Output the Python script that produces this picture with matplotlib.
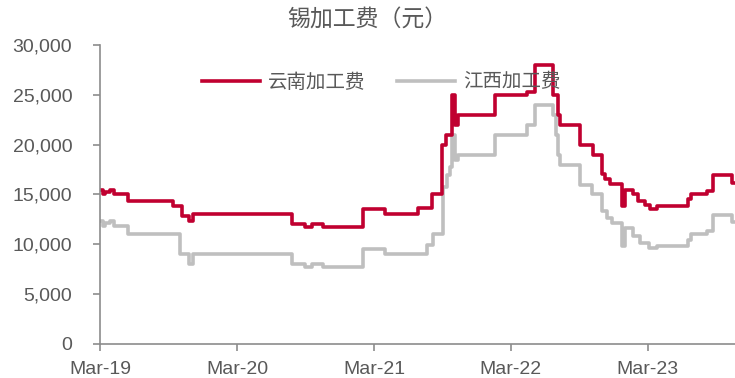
import matplotlib
matplotlib.use('Agg')
from matplotlib import pyplot as plt
import matplotlib.dates as mdates
import pandas as pd

plt.rcParams['font.family'] = ['Liberation Sans', 'Noto Sans CJK SC', 'DejaVu Sans']

# step change dates (value holds until next date)
yn_dates = ['2019-03-01', '2019-03-09', '2019-03-14', '2019-03-28', '2019-04-08', '2019-05-15',
            '2019-09-12', '2019-10-06', '2019-10-24', '2019-11-04', '2020-07-26', '2020-08-30',
            '2020-09-17', '2020-10-17', '2021-01-31', '2021-03-31', '2021-06-27', '2021-08-03',
            '2021-08-30', '2021-09-09', '2021-09-25', '2021-10-03', '2021-10-11', '2022-01-18',
            '2022-04-13', '2022-05-05', '2022-06-22', '2022-07-05', '2022-07-10', '2022-09-02',
            '2022-10-06', '2022-10-31', '2022-11-07', '2022-11-21', '2022-12-23', '2022-12-30',
            '2023-01-21', '2023-02-03', '2023-02-22', '2023-03-07', '2023-03-26', '2023-06-17',
            '2023-06-25', '2023-08-06', '2023-08-22', '2023-10-12', '2023-10-20']
yn_values = [15450, 15050, 15250, 15500, 15050, 14300,
             13800, 12800, 12300, 13000, 12000, 11700,
             12000, 11700, 13500, 13000, 13600, 15000,
             20000, 21000, 25000, 22000, 23000, 25000,
             25300, 28000, 25000, 23000, 22000, 20000,
             19000, 17100, 16600, 16100, 13800, 15500,
             15000, 14300, 13900, 13500, 13800, 14500,
             15100, 15400, 17000, 16200, 16200]

jx_dates = ['2019-03-01', '2019-03-09', '2019-03-14', '2019-03-28', '2019-04-08', '2019-05-15',
            '2019-09-30', '2019-10-24', '2019-11-04', '2020-07-26', '2020-08-30', '2020-09-17',
            '2020-10-17', '2021-01-31', '2021-03-31', '2021-07-21', '2021-08-06', '2021-09-02',
            '2021-09-12', '2021-09-20', '2021-09-25', '2021-10-03', '2021-10-11', '2022-01-18',
            '2022-04-13', '2022-05-05', '2022-06-22', '2022-06-30', '2022-07-05', '2022-07-10',
            '2022-09-02', '2022-10-04', '2022-10-31', '2022-11-13', '2022-11-26', '2022-12-23',
            '2022-12-30', '2023-01-21', '2023-02-09', '2023-03-04', '2023-03-26', '2023-06-17',
            '2023-06-25', '2023-08-06', '2023-08-22', '2023-10-12', '2023-10-20']
jx_values = [12300, 11800, 12100, 12300, 11800, 11000,
             9000, 8000, 9000, 8000, 7700, 8000,
             7700, 9500, 9000, 9900, 11000, 15800,
             17000, 17800, 21000, 18500, 19000, 21000,
             22000, 24000, 23000, 21000, 19000, 18000,
             16000, 15000, 13300, 12600, 12100, 9800,
             11600, 10800, 10100, 9600, 9800, 10400,
             11000, 11300, 12900, 12200, 12200]

tick_dates = ['2019-03-01', '2020-03-01', '2021-03-01', '2022-03-01', '2023-03-01']
tick_labels = ['Mar-19', 'Mar-20', 'Mar-21', 'Mar-22', 'Mar-23']
yticks = [0, 5000, 10000, 15000, 20000, 25000, 30000]

red = '#C00030'
grey = '#BFBFBF'
txt = '#595959'
axc = '#8C8C8C'

fig = plt.figure(figsize=(7.35, 3.78), dpi=100)
ax = fig.add_axes([100/735, 1-344/378, 635/735, 299/378])

ax.plot(pd.to_datetime(jx_dates), jx_values, drawstyle='steps-post', color=grey, linewidth=2.6, label='江西加工费')
ax.plot(pd.to_datetime(yn_dates), yn_values, drawstyle='steps-post', color=red, linewidth=2.6, label='云南加工费')

ax.set_xlim(pd.Timestamp('2019-03-01'), pd.Timestamp('2023-10-20'))
ax.set_ylim(0, 30000)
ax.set_yticks(yticks)
ax.set_yticklabels(['{:,}'.format(v) for v in yticks])
ax.set_xticks(pd.to_datetime(tick_dates))
ax.set_xticklabels(tick_labels)

for s in ['top', 'right']:
    ax.spines[s].set_visible(False)
for s in ['left', 'bottom']:
    ax.spines[s].set_color(axc)
    ax.spines[s].set_linewidth(1.2)
ax.tick_params(axis='y', length=5, color=axc, width=1.2, labelsize=14, labelcolor=txt, pad=15)
ax.tick_params(axis='x', length=5, color=axc, width=1.2, labelsize=14, labelcolor=txt, pad=7)

h, l = ax.get_legend_handles_labels()
fig.legend(h[::-1], l[::-1], ncol=2, frameon=False, loc='center',
           bbox_to_anchor=(381/735, 1-82/378), handlelength=3.0, handletextpad=0.4,
           columnspacing=1.6, prop={'family': 'Noto Sans CJK SC', 'size': 14}, labelcolor=txt)

fig.text(0.5, 1-20/378, '锡加工费（元）', ha='center', va='center', fontsize=16.5,
         color=txt, family='Noto Sans CJK SC')

plt.savefig('out.png', dpi=100)
plt.close()
